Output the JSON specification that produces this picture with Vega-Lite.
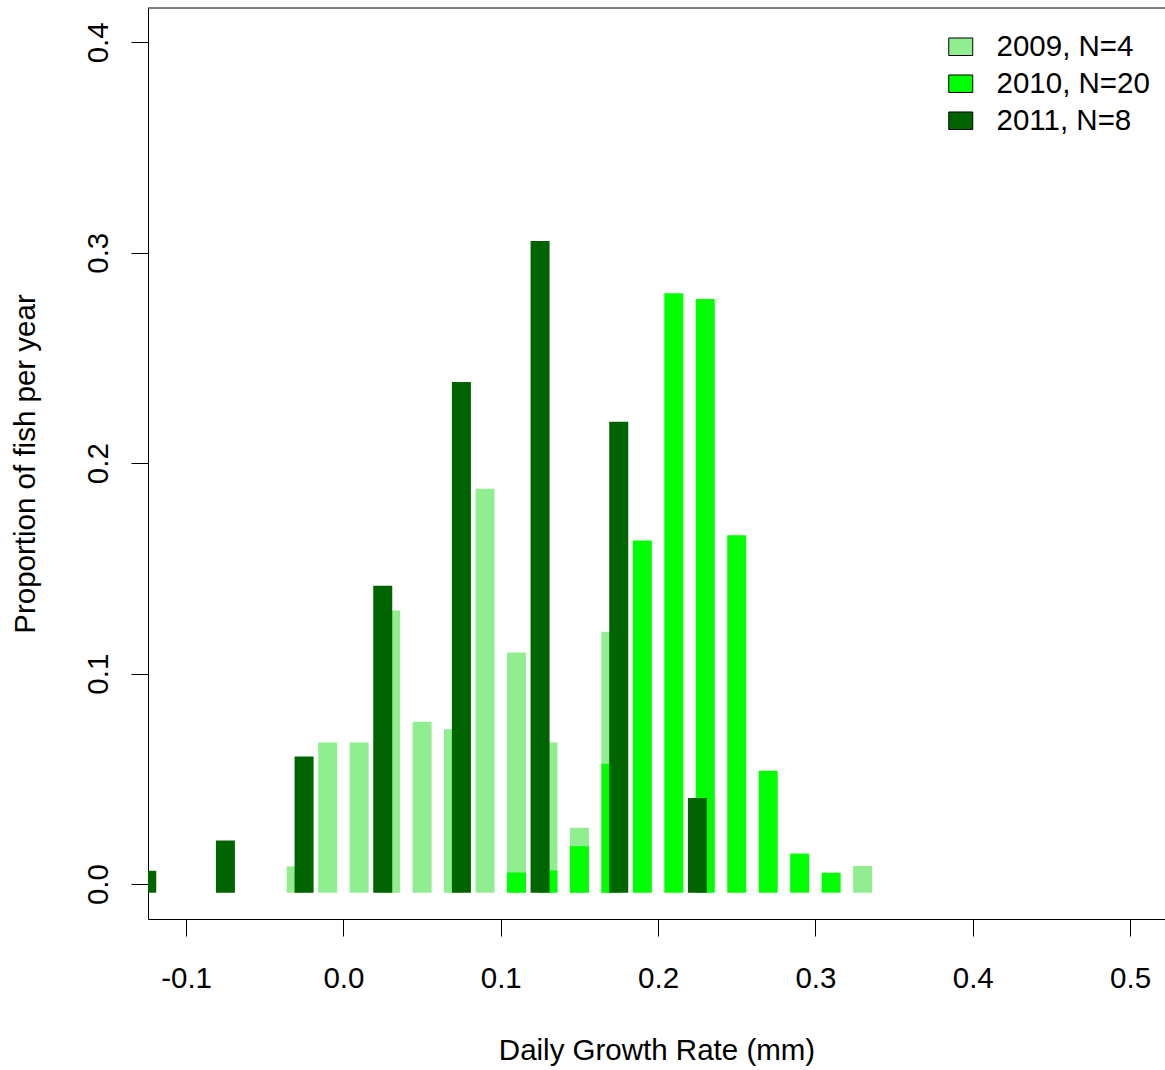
{
  "$schema": "https://vega.github.io/schema/vega-lite/v6.json",
  "autosize": {"type": "none"},
  "padding": {"left": 148, "top": 8, "right": 0, "bottom": 151},
  "width": 1017,
  "height": 911,
  "background": "white",
  "config": {
    "view": {"stroke": null},
    "font": "Liberation Sans",
    "axis": {
      "grid": false,
      "domainColor": "black",
      "domainWidth": 1,
      "tickColor": "black",
      "tickWidth": 1,
      "tickSize": 17,
      "labelColor": "black",
      "labelFont": "Liberation Sans",
      "labelFontSize": 29.5,
      "titleColor": "black",
      "titleFont": "Liberation Sans",
      "titleFontSize": 29.5,
      "titleFontWeight": "normal"
    }
  },
  "data": {
    "values": [
      {"year": "2009, N=4", "rate": -0.03, "proportion": 0.0084},
      {"year": "2009, N=4", "rate": -0.01, "proportion": 0.0673},
      {"year": "2009, N=4", "rate": 0.01, "proportion": 0.0673},
      {"year": "2009, N=4", "rate": 0.03, "proportion": 0.130},
      {"year": "2009, N=4", "rate": 0.05, "proportion": 0.0771},
      {"year": "2009, N=4", "rate": 0.07, "proportion": 0.0736},
      {"year": "2009, N=4", "rate": 0.09, "proportion": 0.1879},
      {"year": "2009, N=4", "rate": 0.11, "proportion": 0.110},
      {"year": "2009, N=4", "rate": 0.13, "proportion": 0.0673},
      {"year": "2009, N=4", "rate": 0.15, "proportion": 0.0268},
      {"year": "2009, N=4", "rate": 0.17, "proportion": 0.1199},
      {"year": "2009, N=4", "rate": 0.33, "proportion": 0.0086},
      {"year": "2010, N=20", "rate": 0.11, "proportion": 0.0055},
      {"year": "2010, N=20", "rate": 0.13, "proportion": 0.0065},
      {"year": "2010, N=20", "rate": 0.15, "proportion": 0.018},
      {"year": "2010, N=20", "rate": 0.17, "proportion": 0.0572},
      {"year": "2010, N=20", "rate": 0.19, "proportion": 0.1633},
      {"year": "2010, N=20", "rate": 0.21, "proportion": 0.2807},
      {"year": "2010, N=20", "rate": 0.23, "proportion": 0.278},
      {"year": "2010, N=20", "rate": 0.25, "proportion": 0.1657},
      {"year": "2010, N=20", "rate": 0.27, "proportion": 0.0538},
      {"year": "2010, N=20", "rate": 0.29, "proportion": 0.0145},
      {"year": "2010, N=20", "rate": 0.31, "proportion": 0.0054},
      {"year": "2011, N=8", "rate": -0.125, "proportion": 0.0063},
      {"year": "2011, N=8", "rate": -0.075, "proportion": 0.0207},
      {"year": "2011, N=8", "rate": -0.025, "proportion": 0.0606},
      {"year": "2011, N=8", "rate": 0.025, "proportion": 0.1417},
      {"year": "2011, N=8", "rate": 0.075, "proportion": 0.2386},
      {"year": "2011, N=8", "rate": 0.125, "proportion": 0.3056},
      {"year": "2011, N=8", "rate": 0.175, "proportion": 0.2197},
      {"year": "2011, N=8", "rate": 0.225, "proportion": 0.0409}
    ]
  },
  "layer": [
    {
      "mark": {"type": "bar", "width": 19, "clip": true},
      "encoding": {
        "x": {
          "field": "rate",
          "type": "quantitative",
          "scale": {"domain": [-0.1242, 0.5222], "nice": false, "zero": false, "padding": 0},
          "axis": {
            "values": [-0.1, 0, 0.1, 0.2, 0.3, 0.4, 0.5],
            "labelExpr": "replace(format(datum.value, '.1f'), '\u2212', '-')",
            "labelPadding": 28,
            "labelFlush": false,
            "labelOverlap": false,
            "title": "Daily Growth Rate (mm)",
            "titlePadding": 44
          }
        },
        "y": {
          "field": "proportion",
          "type": "quantitative",
          "scale": {"domain": [-0.0166, 0.4163], "nice": false, "zero": false, "padding": 0},
          "axis": {
            "values": [0, 0.1, 0.2, 0.3, 0.4],
            "format": ".1f",
            "labelAngle": -90,
            "labelAlign": "center",
            "labelBaseline": "bottom",
            "labelPadding": 18,
            "labelFlush": false,
            "labelOverlap": false,
            "title": "Proportion of fish per year",
            "titlePadding": 43
          }
        },
        "y2": {"datum": -0.0041},
        "color": {
          "field": "year",
          "type": "nominal",
          "scale": {
            "domain": ["2009, N=4", "2010, N=20", "2011, N=8"],
            "range": ["#90EE90", "#00FF00", "#006400"]
          },
          "legend": {
            "title": null,
            "orient": "none",
            "legendX": 798,
            "legendY": 24,
            "padding": 0,
            "labelFont": "Liberation Sans",
            "labelFontSize": 29.5,
            "labelColor": "black",
            "labelOffset": 21,
            "rowPadding": 6,
            "symbolType": "M-1,-0.73H1V0.73H-1Z",
            "symbolSize": 576,
            "symbolStrokeColor": "black",
            "symbolStrokeWidth": 1,
            "symbolOpacity": 1
          }
        }
      }
    },
    {
      "data": {"values": [{}]},
      "mark": {"type": "rule", "color": "black", "strokeWidth": 1},
      "encoding": {"y": {"datum": 0.4163}}
    }
  ]
}
